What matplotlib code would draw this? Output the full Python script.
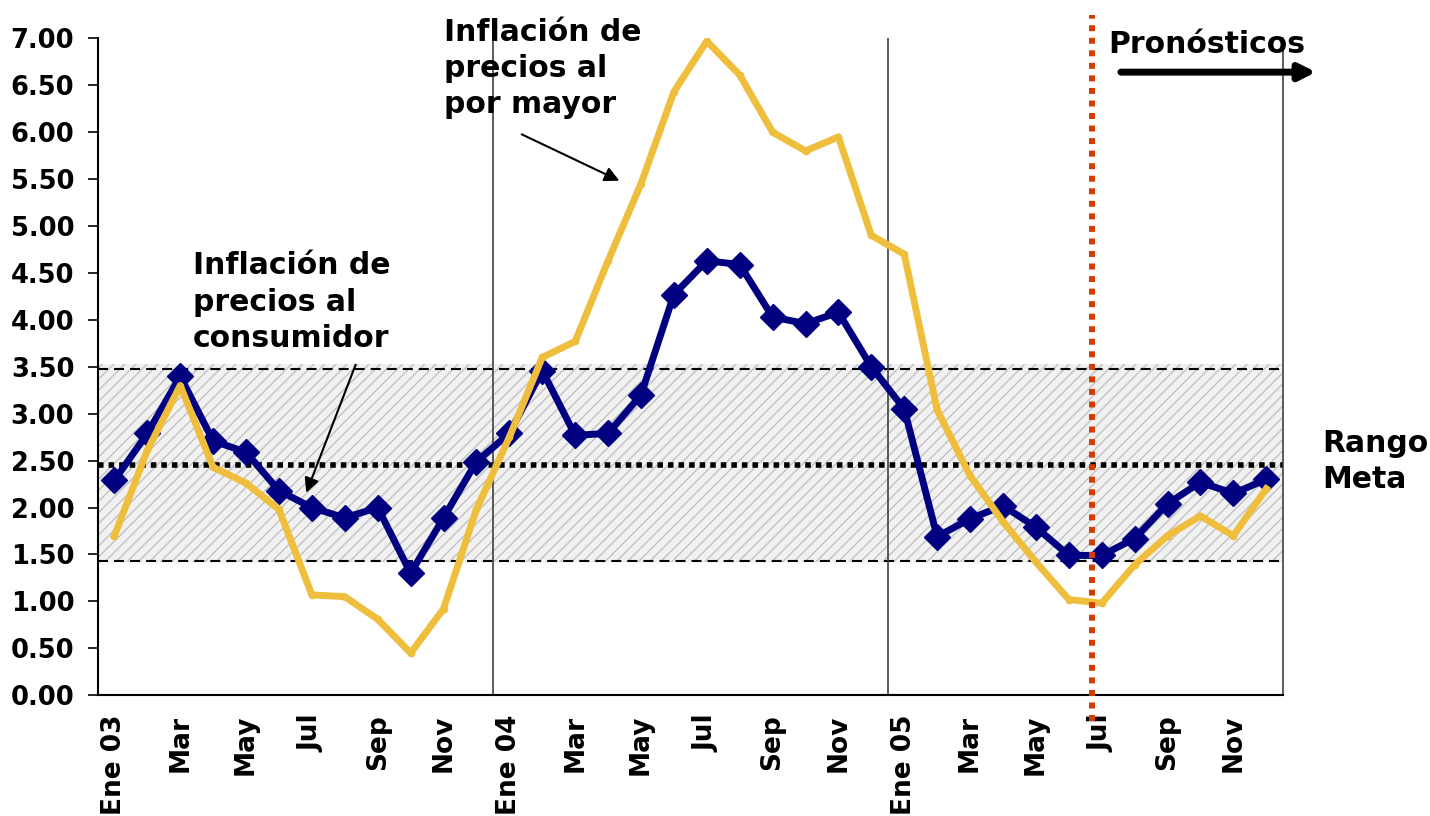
import matplotlib
matplotlib.use("Agg")
import matplotlib.pyplot as plt
import numpy as np

# monthly series, Ene 03 .. Dic 05
months = ["Ene 03", "Feb", "Mar", "Abr", "May", "Jun", "Jul", "Ago", "Sep", "Oct", "Nov", "Dic",
          "Ene 04", "Feb", "Mar", "Abr", "May", "Jun", "Jul", "Ago", "Sep", "Oct", "Nov", "Dic",
          "Ene 05", "Feb", "Mar", "Abr", "May", "Jun", "Jul", "Ago", "Sep", "Oct", "Nov", "Dic"]

ipc = [2.29, 2.79, 3.40, 2.71, 2.59, 2.18, 2.00, 1.89, 2.00, 1.30, 1.89, 2.49,
       2.79, 3.46, 2.77, 2.79, 3.20, 4.27, 4.63, 4.59, 4.03, 3.96, 4.08, 3.50,
       3.05, 1.69, 1.88, 2.02, 1.79, 1.49, 1.49, 1.67, 2.04, 2.27, 2.15, 2.30]

ipm = [1.70, 2.61, 3.30, 2.43, 2.26, 1.98, 1.07, 1.05, 0.81, 0.45, 0.92, 1.98,
       2.75, 3.60, 3.77, 4.63, 5.45, 6.43, 6.97, 6.61, 6.00, 5.80, 5.95, 4.90,
       4.70, 3.04, 2.34, 1.85, 1.42, 1.02, 0.98, 1.39, 1.70, 1.91, 1.70, 2.20]

band_low, band_high = 1.42, 3.53
range_low, range_mid, range_high = 1.43, 2.45, 3.48
forecast_start = 29.7
yticks = np.arange(0, 7.01, 0.5)

x = np.arange(len(months))

fig = plt.figure(figsize=(14.3, 8.16), dpi=100)
ax = fig.add_axes([0.0685, 0.148, 0.8285, 0.805])

# target range band
ax.axhspan(band_low, band_high, facecolor="#f1f1f1", edgecolor="#c2c2c2",
           hatch="///", linewidth=0, zorder=0)
ax.axhline(range_high, color="black", lw=1.5, ls=(0, (4.8, 2.9)), zorder=1)
ax.axhline(range_low, color="black", lw=1.5, ls=(0, (4.8, 2.9)), zorder=1)
ax.axhline(range_mid, color="black", lw=4, ls=(0, (1, 0.9)), zorder=1)

# year separators
for xv in [11.5, 23.5]:
    ax.axvline(xv, color="#404040", lw=1.2, zorder=1)

# series
ax.plot(x, ipc, color="#000080", lw=5, marker="D", ms=13, zorder=3)
ax.plot(x, ipm, color="#EEBE3C", lw=5, marker="o", ms=4.5, zorder=4)

# forecast line
ax.plot([forecast_start, forecast_start], [-0.27, 7.25], color="#D83B01", lw=4.3,
        ls=(0, (1, 1.1)), solid_capstyle="butt", clip_on=False, zorder=5)

ax.set_xlim(-0.5, 35.5)
ax.set_ylim(0, 7)
ax.set_yticks(yticks)
ax.set_yticklabels([f"{v:.2f}" for v in yticks], fontsize=18.5, fontweight="bold",
                   family="DejaVu Sans")
ax.set_xticks(x[::2])
ax.set_xticklabels(months[::2], rotation=90, fontsize=19, fontweight="bold",
                   family="DejaVu Sans")
ax.tick_params(axis="y", direction="out", length=7, width=1.2, pad=10)
ax.tick_params(axis="x", length=0, pad=14)

ax.spines["top"].set_visible(False)
ax.spines["left"].set_linewidth(1.5)
ax.spines["bottom"].set_linewidth(1.5)
ax.spines["right"].set_color("#404040")
ax.spines["right"].set_linewidth(1.2)

tf = dict(fontsize=21.5, fontweight="bold", family="DejaVu Sans", linespacing=1.32)
ax.text(10.0, 7.22, "Inflación de\nprecios al\npor mayor", ha="left", va="top",
        clip_on=False, **tf)
ax.text(2.38, 4.73, "Inflación de\nprecios al\nconsumidor", ha="left", va="top", **tf)
ax.text(30.2, 6.93, "Pronósticos", ha="left", va="center", **tf)
ax.text(36.7, 2.84, "Rango\nMeta", ha="left", va="top", clip_on=False, **tf)

ax.annotate("", xy=(15.42, 5.47), xytext=(12.3, 5.99),
            arrowprops=dict(arrowstyle="-|>", color="black", lw=1.5, mutation_scale=22))
ax.annotate("", xy=(5.80, 2.13), xytext=(7.36, 3.55),
            arrowprops=dict(arrowstyle="-|>", color="black", lw=1.5, mutation_scale=22))
ax.annotate("", xy=(36.6, 6.64), xytext=(30.5, 6.64), annotation_clip=False,
            arrowprops=dict(arrowstyle="-|>", color="black", lw=5, mutation_scale=24))

fig.savefig("out.png", dpi=100)
